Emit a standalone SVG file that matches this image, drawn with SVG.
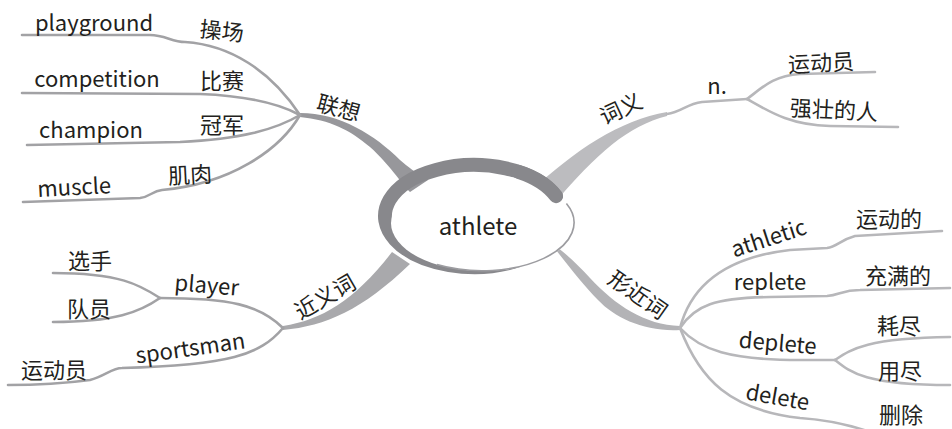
<svg xmlns="http://www.w3.org/2000/svg" width="952" height="429" viewBox="0 0 952 429">
<style>
text{font-family:"Noto Sans CJK SC","Noto Sans",sans-serif;font-size:22px;fill:#231f20;text-anchor:middle;dominant-baseline:central}
.leaf{fill:none;stroke:#a2a2a5;stroke-width:2.6;stroke-linecap:round;stroke-linejoin:round}
.leaf2{fill:none;stroke:#b7b7ba;stroke-width:2.6;stroke-linecap:round;stroke-linejoin:round}
.ring{fill:none;stroke:#88888c;stroke-width:14;stroke-linecap:round}
</style>
<rect width="952" height="429" fill="#fff"/>
<g id="connectors">
<path d="M300,113 C340,113 375,135 400,160 C408,167 415,172 428,180 L410,192 C400,182 390,165 370,147 C350,130 330,120 300,117 Z" fill="#97979b"/>
<path d="M530,192 C575,150 620,120 667,112 L667,116 C628,126 598,152 552,206 Z" fill="#bcbcbf"/>
<path d="M283,326 C322,320 355,300 392,252 L410,264 C362,310 326,326 283,330 Z" fill="#a9a9ac"/>
<path d="M548,240 C568,255 578,265 590,278 C615,305 645,325 680,326 L680,330 C645,332 615,318 598,300 C585,287 570,268 556,250 Z" fill="#b3b3b6"/>
<path class="leaf" d="M22,35 L150,35 C165,35 172,42 185,42 C230,45 270,70 300,115"/>
<path class="leaf" d="M22,93 L200,94 C250,96 280,104 300,115"/>
<path class="leaf" d="M27,145 L180,142 C240,139 275,130 300,115"/>
<path class="leaf" d="M23,202 L140,198 C150,197 152,191 162,190 C230,184 280,150 300,115"/>
<path class="leaf2" d="M667,114 C682,112 686,104 702,102 L747,99"/>
<path class="leaf2" d="M747,99 C762,88 772,76 800,74 L875,72"/>
<path class="leaf2" d="M747,99 C770,112 790,125 830,126 L898,127"/>
<path class="leaf" d="M283,328 C260,305 230,298 160,298"/>
<path class="leaf" d="M160,298 C140,285 120,273 53,273"/>
<path class="leaf" d="M160,298 C140,312 115,322 53,322"/>
<path class="leaf" d="M283,328 C260,355 230,365 122,368 C112,368 105,376 90,380 C60,384 40,385 8,385"/>
<path class="leaf2" d="M680,328 C690,290 720,258 790,250 L827,248 C837,247 840,240 855,236 L942,231"/>
<path class="leaf2" d="M680,328 C695,305 715,298 770,297 L827,296 C840,295 842,290 860,290 L950,288"/>
<path class="leaf2" d="M680,328 C700,350 730,360 800,360 L835,360"/>
<path class="leaf2" d="M835,360 C850,350 865,338 950,337"/>
<path class="leaf2" d="M835,360 C850,372 865,385 950,385"/>
<path class="leaf2" d="M680,328 C700,380 730,410 800,418 C830,420 850,425 870,432"/>
</g>
<g id="center">
<path class="ring" d="M556,196.2 A89 51 0 1 0 518.5,260.2"/>
<ellipse cx="483" cy="223" rx="92" ry="48" fill="#fff"/>
<path d="M566.4,203.6 A92 48 0 0 1 437,264.6" fill="none" stroke="#9c9ca0" stroke-width="1.6"/>
<path class="ring" d="M556,196.2 A89 51 0 0 0 518.5,171.8"/>
<text x="478" y="224" style="font-size:24px">athlete</text>
</g>
<g id="n-lianxiang"><text x="339" y="106" transform="rotate(15 339 106)">联想</text></g>
<g id="n-playground"><text x="94" y="21">playground</text></g>
<g id="n-caochang"><text x="222" y="29" transform="rotate(6 222 29)">操场</text></g>
<g id="n-competition"><text x="97" y="77">competition</text></g>
<g id="n-bisai"><text x="222" y="79">比赛</text></g>
<g id="n-champion"><text x="91" y="128">champion</text></g>
<g id="n-guanjun"><text x="222" y="123">冠军</text></g>
<g id="n-muscle"><text x="74" y="185" transform="rotate(-3 74 185)">muscle</text></g>
<g id="n-jirou"><text x="190" y="173" transform="rotate(-3 190 173)">肌肉</text></g>
<g id="n-ciyi"><text x="620" y="107" transform="rotate(-25 620 107)">词义</text></g>
<g id="n-n"><text x="717" y="84">n.</text></g>
<g id="n-yundongyuan1"><text x="821" y="61" transform="rotate(-3 821 61)">运动员</text></g>
<g id="n-qiangzhuang"><text x="834" y="108" transform="rotate(3 834 108)">强壮的人</text></g>
<g id="n-jinyici"><text x="324" y="295" transform="rotate(-30 324 295)">近义词</text></g>
<g id="n-player"><text x="207" y="283" transform="rotate(5 207 283)">player</text></g>
<g id="n-xuanshou"><text x="90" y="259">选手</text></g>
<g id="n-duiyuan"><text x="89" y="307">队员</text></g>
<g id="n-sportsman"><text x="190" y="346" transform="rotate(-8 190 346)">sportsman</text></g>
<g id="n-yundongyuan2"><text x="54" y="368">运动员</text></g>
<g id="n-xingjinci"><text x="639" y="293" transform="rotate(35 639 293)">形近词</text></g>
<g id="n-athletic"><text x="768" y="236" transform="rotate(-18 768 236)">athletic</text></g>
<g id="n-yundongde"><text x="889" y="217">运动的</text></g>
<g id="n-replete"><text x="770" y="280">replete</text></g>
<g id="n-chongman"><text x="898" y="274">充满的</text></g>
<g id="n-deplete"><text x="778" y="341" transform="rotate(5 778 341)">deplete</text></g>
<g id="n-haojin"><text x="899" y="324">耗尽</text></g>
<g id="n-yongjin"><text x="900" y="369">用尽</text></g>
<g id="n-delete"><text x="778" y="395" transform="rotate(10 778 395)">delete</text></g>
<g id="n-shanchu"><text x="901" y="413">删除</text></g>
</svg>
